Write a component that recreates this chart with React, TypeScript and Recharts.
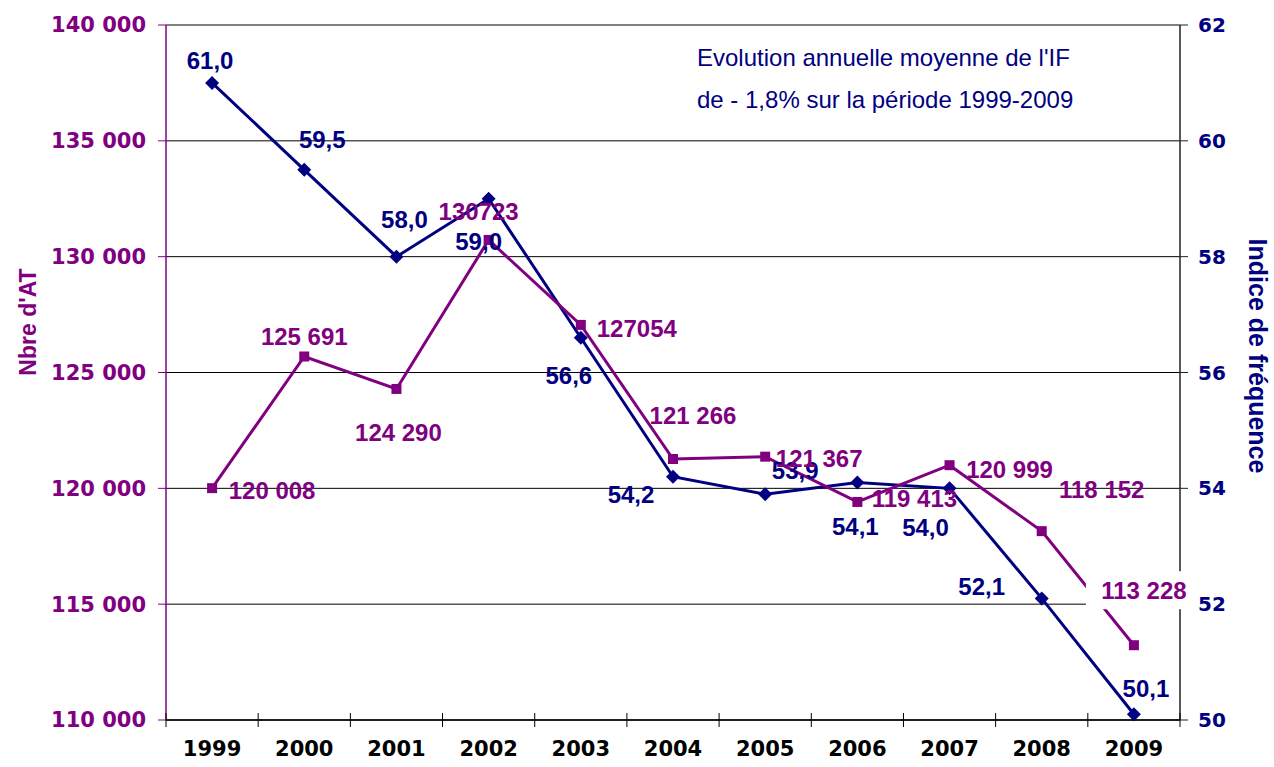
import React from "react";
import {
  CartesianGrid,
  LabelList,
  Line,
  LineChart,
  ReferenceLine,
  XAxis,
  YAxis,
} from "recharts";

/* ---- data ---- */
const years = ["1999", "2000", "2001", "2002", "2003", "2004", "2005", "2006", "2007", "2008", "2009"];
const nbreAT = [120008, 125691, 124290, 130723, 127054, 121266, 121367, 119413, 120999, 118152, 113228];
const nbreATLabels = ["120 008", "125 691", "124 290", "130723", "127054", "121 266", "121 367", "119 413", "120 999", "118 152", "113 228"];
const indiceFrequence = [61.0, 59.5, 58.0, 59.0, 56.6, 54.2, 53.9, 54.1, 54.0, 52.1, 50.1];
const indiceLabels = ["61,0", "59,5", "58,0", "59,0", "56,6", "54,2", "53,9", "54,1", "54,0", "52,1", "50,1"];
const leftTicks = [110000, 115000, 120000, 125000, 130000, 135000, 140000];
const rightTicks = [50, 52, 54, 56, 58, 60, 62];

const data = years.map((year, i) => ({
  year,
  at: nbreAT[i],
  atLabel: nbreATLabels[i],
  ifr: indiceFrequence[i],
  ifrLabel: indiceLabels[i],
}));

/* ---- styles ---- */
const PURPLE = "#800080";
const NAVY = "#000080";
const W = 1274;
const H = 767;
const PLOT_LEFT = 166;
const PLOT_RIGHT = 1180;
const PLOT_TOP = 25;
const PLOT_BOTTOM = 720;
const BAND = (PLOT_RIGHT - PLOT_LEFT) / years.length;
const TICK_FONT = "'DejaVu Sans', sans-serif";
const LABEL_FONT = "'Liberation Sans', Arial, sans-serif";

// décalage des étiquettes par point (px, relatif au marqueur)
const atLabelOffsets: [number, number][] = [
  [60, 2], [0, -20], [2, 44], [-10, -28], [56, 4], [20, -44],
  [54, 2], [57, -3], [60, 4], [60, -42], [10, -55],
];
const ifrLabelOffsets: [number, number][] = [
  [-2, -22], [18, -30], [8, -37], [-10, 43], [-12, 38], [-42, 18],
  [30, -24], [-2, 44], [-24, 39], [-60, -12], [12, -26],
];

const makeLabel = (offsets: [number, number][], color: string, texts: string[], boxed: number[] = []) =>
  (props: any) => {
    const { x, y, value } = props;
    let index = props.index;
    if (index == null) index = texts.indexOf(String(value));
    const [dx, dy] = offsets[index] || [0, -20];
    const cx = Number(x) + dx;
    const cy = Number(y) + dy;
    return (
      <g>
        {boxed.includes(index) && (
          <rect x={cx - 58} y={cy - 19} width={102} height={38} fill="#fff" />
        )}
        <text
          x={cx}
          y={cy}
          textAnchor="middle"
          dominantBaseline="central"
          fill={color}
          fontFamily={LABEL_FONT}
          fontWeight="bold"
          fontSize={24}
        >
          {value}
        </text>
      </g>
    );
  };

const DiamondDot = (props: any) => {
  const { cx, cy, index } = props;
  if (cx == null || cy == null) return <g key={index} />;
  const r = 7;
  return (
    <path
      key={index}
      d={`M${cx},${cy - r} L${cx + r},${cy} L${cx},${cy + r} L${cx - r},${cy} Z`}
      fill={NAVY}
    />
  );
};

const SquareDot = (props: any) => {
  const { cx, cy, index } = props;
  if (cx == null || cy == null) return <g key={index} />;
  return <rect key={index} x={cx - 5} y={cy - 5} width={10} height={10} fill={PURPLE} />;
};

const YearTick = (props: any) => {
  const { x, payload, index } = props;
  const half = BAND / 2;
  return (
    <g>
      <line x1={x - half} x2={x - half} y1={PLOT_BOTTOM - 7} y2={PLOT_BOTTOM + 7} stroke="#000" />
      {index === years.length - 1 && (
        <line x1={x + half} x2={x + half} y1={PLOT_BOTTOM - 7} y2={PLOT_BOTTOM + 7} stroke="#000" />
      )}
      <text
        x={x}
        y={PLOT_BOTTOM + 29}
        textAnchor="middle"
        dominantBaseline="central"
        fill="#000"
        fontFamily={TICK_FONT}
        fontWeight="bold"
        fontSize={21}
      >
        {payload.value}
      </text>
    </g>
  );
};

const formatThousands = (v: number) => String(v).replace(/\B(?=(\d{3})+(?!\d))/g, " ");

export default function App() {
  return (
    <div style={{ position: "absolute", left: 0, top: 0, width: W, height: H, background: "#fff" }}>
      <LineChart
        width={W}
        height={H}
        data={data}
        margin={{ top: PLOT_TOP, right: 0, bottom: 0, left: 0 }}
      >
        <CartesianGrid yAxisId="left" vertical={false} stroke="#000" strokeWidth={1} />
        <XAxis
          dataKey="year"
          height={H - PLOT_BOTTOM}
          padding={{ left: BAND / 2, right: BAND / 2 }}
          tickLine={false}
          axisLine={{ stroke: "#000", strokeWidth: 1.5 }}
          tick={<YearTick />}
          interval={0}
        />
        <YAxis
          yAxisId="left"
          width={PLOT_LEFT}
          domain={[110000, 140000]}
          ticks={leftTicks}
          tickFormatter={formatThousands}
          tickSize={8}
          tickMargin={12}
          axisLine={{ stroke: PURPLE, strokeWidth: 1.5 }}
          tickLine={{ stroke: PURPLE }}
          tick={{ fill: PURPLE, fontFamily: TICK_FONT, fontWeight: "bold", fontSize: 21 }}
        />
        <YAxis
          yAxisId="right"
          orientation="right"
          width={W - PLOT_RIGHT}
          domain={[50, 62]}
          ticks={rightTicks}
          tickSize={8}
          tickMargin={10}
          axisLine={{ stroke: "#222", strokeWidth: 1.5 }}
          tickLine={{ stroke: "#222" }}
          tick={{ fill: NAVY, fontFamily: TICK_FONT, fontWeight: "bold", fontSize: 20 }}
        />
        <ReferenceLine yAxisId="left" y={140000} stroke="#808080" strokeWidth={2} />
        <Line
          yAxisId="right"
          dataKey="ifr"
          stroke={NAVY}
          strokeWidth={3}
          dot={DiamondDot}
          activeDot={false}
          isAnimationActive={false}
        >
          <LabelList dataKey="ifrLabel" content={makeLabel(ifrLabelOffsets, NAVY, indiceLabels)} />
        </Line>
        <Line
          yAxisId="left"
          dataKey="at"
          stroke={PURPLE}
          strokeWidth={3}
          dot={SquareDot}
          activeDot={false}
          isAnimationActive={false}
        >
          <LabelList dataKey="atLabel" content={makeLabel(atLabelOffsets, PURPLE, nbreATLabels, [10])} />
        </Line>
      </LineChart>
      <svg
        width={W}
        height={H}
        style={{ position: "absolute", left: 0, top: 0, pointerEvents: "none" }}
      >
        <text
          transform="translate(36, 322) rotate(-90)"
          textAnchor="middle"
          fill={PURPLE}
          fontFamily={LABEL_FONT}
          fontWeight="bold"
          fontSize={23}
        >
          Nbre d'AT
        </text>
        <text
          transform="translate(1249, 356) rotate(90)"
          textAnchor="middle"
          fill={NAVY}
          fontFamily={LABEL_FONT}
          fontWeight="bold"
          fontSize={25}
        >
          Indice de fréquence
        </text>
        <text x={697} y={66} fill={NAVY} fontFamily={LABEL_FONT} fontSize={24}>
          Evolution annuelle moyenne de l'IF
        </text>
        <text x={697} y={108} fill={NAVY} fontFamily={LABEL_FONT} fontSize={24}>
          de - 1,8% sur la période 1999-2009
        </text>
      </svg>
    </div>
  );
}
